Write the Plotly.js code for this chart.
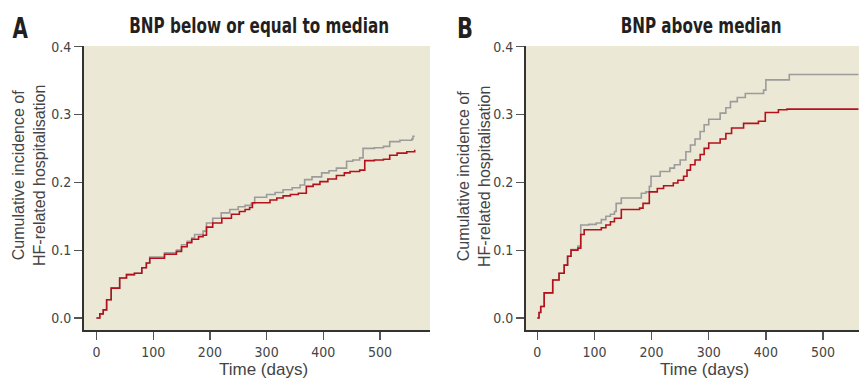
<!DOCTYPE html>
<html>
<head>
<meta charset="utf-8">
<script src="https://cdn.plot.ly/plotly-3.0.1.min.js"></script>
<style>html,body{margin:0;padding:0;background:#fff;}#chart{width:859px;height:380px;}</style>
</head>
<body>
<div id="chart"></div>
<script>
// Panel A: BNP below or equal to median
const daysA_gray = [0, 6, 12, 18, 26, 41, 53, 67, 80, 88, 94, 120, 141, 150, 160, 168, 173, 188, 194, 205, 220, 235, 250, 262, 273, 279, 300, 315, 329, 345, 359, 367, 380, 397, 410, 423, 441, 452, 464, 470, 490, 506, 517, 535, 556, 558, 561];
const valsA_gray = [0, 0.006, 0.012, 0.027, 0.044, 0.059, 0.064, 0.066, 0.074, 0.081, 0.090, 0.096, 0.100, 0.108, 0.113, 0.118, 0.123, 0.128, 0.140, 0.147, 0.155, 0.160, 0.164, 0.166, 0.169, 0.178, 0.182, 0.185, 0.189, 0.192, 0.196, 0.204, 0.208, 0.214, 0.217, 0.221, 0.231, 0.233, 0.236, 0.250, 0.251, 0.253, 0.260, 0.262, 0.264, 0.268, 0.268];
const daysA_red = [0, 6, 12, 18, 26, 41, 53, 67, 80, 88, 94, 120, 141, 150, 160, 168, 180, 188, 194, 205, 221, 238, 252, 262, 270, 275, 306, 318, 329, 342, 356, 370, 382, 394, 408, 423, 437, 447, 464, 473, 490, 506, 517, 530, 547, 561];
const valsA_red = [0, 0.006, 0.012, 0.027, 0.044, 0.059, 0.064, 0.066, 0.074, 0.081, 0.088, 0.094, 0.098, 0.105, 0.111, 0.116, 0.120, 0.122, 0.134, 0.140, 0.147, 0.153, 0.157, 0.160, 0.163, 0.170, 0.174, 0.177, 0.180, 0.182, 0.184, 0.194, 0.197, 0.201, 0.205, 0.210, 0.214, 0.216, 0.218, 0.232, 0.233, 0.234, 0.240, 0.243, 0.245, 0.248];

// Panel B: BNP above median
const daysB_gray = [0, 3, 6, 12, 21, 27, 38, 47, 53, 59, 71, 76, 90, 103, 112, 120, 128, 135, 138, 147, 170, 182, 190, 196, 199, 215, 232, 240, 250, 260, 268, 276, 285, 292, 300, 320, 330, 338, 350, 364, 396, 400, 434, 441, 562];
const valsB_gray = [0, 0.008, 0.017, 0.037, 0.037, 0.056, 0.066, 0.078, 0.091, 0.101, 0.106, 0.137, 0.138, 0.140, 0.145, 0.150, 0.153, 0.157, 0.169, 0.177, 0.177, 0.184, 0.186, 0.194, 0.209, 0.216, 0.221, 0.226, 0.233, 0.245, 0.255, 0.264, 0.275, 0.285, 0.293, 0.302, 0.310, 0.319, 0.325, 0.331, 0.336, 0.351, 0.351, 0.359, 0.359];
const daysB_red = [0, 3, 6, 12, 21, 27, 38, 47, 53, 59, 71, 76, 82, 103, 112, 120, 128, 135, 147, 179, 185, 196, 210, 221, 238, 246, 256, 262, 268, 276, 285, 292, 300, 320, 330, 340, 361, 387, 399, 422, 437, 562];
const valsB_red = [0, 0.008, 0.017, 0.037, 0.037, 0.056, 0.066, 0.078, 0.091, 0.100, 0.103, 0.123, 0.130, 0.130, 0.133, 0.137, 0.142, 0.147, 0.160, 0.162, 0.169, 0.186, 0.191, 0.195, 0.199, 0.203, 0.209, 0.218, 0.226, 0.233, 0.241, 0.250, 0.258, 0.264, 0.272, 0.280, 0.287, 0.290, 0.303, 0.307, 0.308, 0.308];

const yTicks = [0, 0.1, 0.2, 0.3, 0.4];
const yTickText = ['0.0', '0.1', '0.2', '0.3', '0.4'];
const xTicks = [0, 100, 200, 300, 400, 500];

const titleA = 'BNP below or equal to median';
const titleB = 'BNP above median';
const yTitle = 'Cumulative incidence of<br>HF-related hospitalisation';
const xTitle = 'Time (days)';

const GRAY = '#9b9b9b', RED = '#b3121c';
const NARROW = '"Liberation Sans Narrow", "DejaVu Sans Condensed", sans-serif';
const SANS = '"Liberation Sans", Arial, sans-serif';

function line(x, y, color, xa, ya) {
  return {x: x, y: y, type: 'scatter', mode: 'lines', line: {shape: 'hv', color: color, width: 1.6}, xaxis: xa, yaxis: ya, hoverinfo: 'skip'};
}

const data = [
  line(daysA_gray, valsA_gray, GRAY, 'x', 'y'),
  line(daysA_red, valsA_red, RED, 'x', 'y'),
  line(daysB_gray, valsB_gray, GRAY, 'x2', 'y2'),
  line(daysB_red, valsB_red, RED, 'x2', 'y2')
];

const W = 859, H = 380;
const px = v => v / W;
const py = v => 1 - v / H;

const axisCommon = {
  showgrid: false, zeroline: false, showline: true, linecolor: '#333', linewidth: 2,
  ticks: 'outside', ticklen: 8, tickwidth: 1.3, tickcolor: '#555',
  tickfont: {family: NARROW, size: 14, color: '#444'}, fixedrange: true
};

const yRange = [-0.0177, 0.401];
const layout = {
  width: W, height: H, margin: {l: 0, r: 0, t: 0, b: 0},
  paper_bgcolor: '#ffffff', plot_bgcolor: '#ece8d6', showlegend: false,
  xaxis: Object.assign({}, axisCommon, {domain: [px(84), px(430)], range: [-21.9, 588], tickvals: xTicks, anchor: 'y'}),
  yaxis: Object.assign({}, axisCommon, {domain: [py(330), py(46)], range: yRange, tickvals: yTicks, ticktext: yTickText, anchor: 'x'}),
  xaxis2: Object.assign({}, axisCommon, {domain: [px(526), px(859)], range: [-19.8, 563], tickvals: xTicks, anchor: 'y2'}),
  yaxis2: Object.assign({}, axisCommon, {domain: [py(330), py(46)], range: yRange, tickvals: yTicks, ticktext: yTickText, anchor: 'x2'}),
  annotations: [
    {name: 'narrow', text: '<b>A</b>', x: px(20), y: py(28), xref: 'paper', yref: 'paper', showarrow: false, xanchor: 'center', yanchor: 'middle', font: {family: NARROW, size: 29, color: '#231f20'}},
    {name: 'narrow', text: '<b>B</b>', x: px(465), y: py(28), xref: 'paper', yref: 'paper', showarrow: false, xanchor: 'center', yanchor: 'middle', font: {family: NARROW, size: 29, color: '#231f20'}},
    {name: 'narrow', text: '<b>' + titleA + '</b>', x: px(259), y: py(26), xref: 'paper', yref: 'paper', showarrow: false, xanchor: 'center', yanchor: 'middle', font: {family: NARROW, size: 21, color: '#231f20'}},
    {name: 'narrow', text: '<b>' + titleB + '</b>', x: px(701), y: py(26), xref: 'paper', yref: 'paper', showarrow: false, xanchor: 'center', yanchor: 'middle', font: {family: NARROW, size: 21, color: '#231f20'}},
    {text: yTitle, x: px(29), y: py(176), xref: 'paper', yref: 'paper', showarrow: false, xanchor: 'center', yanchor: 'middle', textangle: -90, font: {family: SANS, size: 16, color: '#444'}},
    {text: yTitle, x: px(474), y: py(176), xref: 'paper', yref: 'paper', showarrow: false, xanchor: 'center', yanchor: 'middle', textangle: -90, font: {family: SANS, size: 16, color: '#444'}},
    {text: xTitle, x: px(263), y: py(369), xref: 'paper', yref: 'paper', showarrow: false, xanchor: 'center', yanchor: 'middle', font: {family: SANS, size: 17, color: '#444'}},
    {text: xTitle, x: px(704), y: py(369), xref: 'paper', yref: 'paper', showarrow: false, xanchor: 'center', yanchor: 'middle', font: {family: SANS, size: 17, color: '#444'}}
  ]
};

Plotly.newPlot('chart', data, layout, {displayModeBar: false, staticPlot: true}).then(function (gd) {
  // condense the bold headings horizontally (no narrow font installed)
  const targets = {};
  targets[titleA] = 260; targets[titleB] = 161; targets['A'] = 16; targets['B'] = 16;
  gd.querySelectorAll('.annotation-text').forEach(function (t) {
    const key = t.textContent;
    if (!(key in targets)) return;
    const bb = t.getBBox();
    const s = Math.min(1, targets[key] / bb.width);
    const cx = bb.x + bb.width / 2;
    t.setAttribute('transform', 'translate(' + cx + ',0) scale(' + s + ',1) translate(' + (-cx) + ',0)');
  });
});
</script>
</body>
</html>
